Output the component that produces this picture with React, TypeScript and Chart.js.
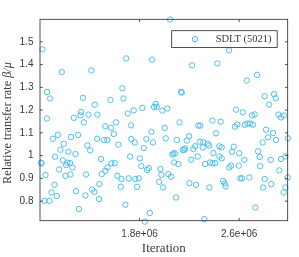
import React, { useEffect, useRef } from "react";
import { Chart, registerables } from "chart.js";
Chart.register(...registerables);

// Iteration (in millions) and relative transfer rate
const iterationM = [
  1.020, 1.175, 1.057, 1.081, 1.413, 1.346, 1.440, 1.055, 1.272, 1.330,
  1.325, 1.352, 1.389, 1.461, 1.525, 1.566, 1.571, 1.611, 1.662, 1.670,
  1.692, 1.705, 1.732, 1.753, 1.822, 1.900, 2.045, 2.519, 2.222, 2.425,
  2.661, 2.744, 2.133, 2.139, 2.805, 2.880, 2.894, 2.840, 1.930, 1.916,
  1.938, 2.023, 1.983, 2.575, 2.629, 2.703, 2.725, 2.915, 2.936, 2.958,
  2.120, 2.272, 2.288, 2.385, 2.452, 2.002, 2.567, 2.585, 2.645, 2.666,
  2.687, 2.711, 2.816, 1.103, 1.143, 1.250, 1.306, 1.191, 1.164, 1.381,
  1.403, 1.459, 1.228, 1.285, 1.121, 1.183, 1.220, 1.210, 1.242, 1.009,
  1.012, 1.491, 1.154, 1.260, 1.044, 1.204, 1.244, 1.370, 1.496, 1.116,
  1.092, 1.135, 1.290, 1.365, 1.419, 1.437, 1.477, 1.036, 1.076, 1.475,
  1.312, 1.593, 1.515, 1.541, 1.630, 1.734, 1.761, 1.855, 1.895, 1.908,
  1.834, 1.724, 1.802, 1.814, 1.874, 1.860, 1.967, 1.975, 1.574, 1.601,
  1.541, 1.525, 1.622, 1.654, 1.713, 1.766, 1.794, 1.649, 1.780, 1.957,
  1.989, 1.686, 1.882, 1.842, 2.414, 2.010, 2.099, 2.179, 2.197, 2.286,
  2.312, 2.348, 2.358, 2.246, 2.307, 2.460, 2.441, 2.165, 2.147, 2.160,
  2.232, 2.071, 2.085, 2.063, 2.267, 2.214, 2.393, 2.441, 2.460, 2.077,
  2.112, 2.326, 2.366, 2.385, 2.406, 2.031, 2.053, 2.200, 2.254, 2.360,
  2.471, 2.484, 2.491, 2.093, 2.320, 2.872, 2.832, 2.896, 2.789, 2.992,
  2.556, 2.543, 2.601, 2.752, 2.765, 2.642, 2.854, 2.936, 2.971, 2.521,
  2.535, 2.597, 2.770, 2.923, 2.990, 2.609, 2.623, 2.682, 2.805, 2.858,
  2.792, 2.971, 2.958, 2.730,
];
const transferRate = [
  1.467, 1.367, 1.280, 1.251, 1.374, 1.254, 1.224, 1.163, 1.166, 1.192,
  1.177, 1.146, 1.180, 1.180, 1.129, 1.245, 1.122, 1.146, 1.296, 1.251,
  1.427, 1.185, 1.133, 1.199, 1.210, 1.422, 1.598, 1.463, 1.397, 1.405,
  1.330, 1.355, 1.280, 1.277, 1.261, 1.270, 1.252, 1.224, 1.227, 1.214,
  1.214, 1.207, 1.198, 1.202, 1.190, 1.176, 1.181, 1.180, 1.168, 1.176,
  1.146, 1.132, 1.132, 1.154, 1.149, 1.122, 1.127, 1.137, 1.135, 1.141,
  1.141, 1.136, 1.114, 1.074, 1.091, 1.082, 1.091, 1.052, 1.026, 1.045,
  1.023, 1.074, 1.017, 1.007, 0.995, 0.979, 0.969, 0.958, 0.967, 0.969,
  0.966, 0.985, 0.939, 0.948, 0.915, 0.911, 0.917, 0.917, 0.919, 0.872,
  0.838, 0.822, 0.844, 0.825, 0.851, 0.841, 0.875, 0.801, 0.801, 0.809,
  0.765, 1.095, 1.069, 1.069, 1.048, 1.073, 1.058, 1.073, 1.105, 1.058,
  1.033, 0.996, 0.988, 0.954, 0.945, 0.937, 0.941, 0.915, 0.966, 0.967,
  0.948, 0.933, 0.911, 0.897, 0.900, 0.897, 0.900, 0.863, 0.863, 0.885,
  0.860, 0.784, 0.748, 0.710, 1.098, 1.076, 1.069, 1.066, 1.085, 1.061,
  1.058, 1.052, 1.044, 1.041, 1.036, 1.036, 1.041, 1.032, 1.025, 1.025,
  1.029, 1.010, 1.010, 1.004, 0.996, 0.982, 1.011, 0.996, 0.988, 0.970,
  0.963, 0.963, 0.970, 0.966, 0.967, 0.919, 0.907, 0.879, 0.872, 0.860,
  0.889, 0.878, 0.865, 0.816, 0.721, 1.100, 1.080, 1.069, 1.058, 1.076,
  1.039, 1.017, 1.010, 1.019, 0.994, 0.981, 0.981, 0.985, 0.996, 0.948,
  0.956, 0.956, 0.954, 0.935, 0.904, 0.900, 0.900, 0.904, 0.897, 0.875,
  0.860, 0.860, 0.838, 0.772,
];

const xTickValues = [1.8e6, 2.6e6];
const xTickLabels = ["1.8e+06", "2.6e+06"];
const yTickValues = [0.8, 0.9, 1.0, 1.1, 1.2, 1.3, 1.4, 1.5];
const yTickLabels = ["0.8", "0.9", "1", "1.1", "1.2", "1.3", "1.4", "1.5"];
const seriesLabel = "SDLT (5021)";
const xTitle = "Iteration";
const yTitleMain = "Relative transfer rate ";
const yTitleSym = "\u03B2/\u03BC";

const X_MIN = 1.0e6;
const X_MAX = 2.99e6;
const Y_MIN = 0.714;
const Y_MAX = 1.599;

const POINT = "#4DBEEE";
const AXIS = "#262626";
const TEXT = "#3a3a3a";
const SANS = "'Liberation Sans', Arial, sans-serif";
const SERIF = "'Liberation Serif', 'Times New Roman', serif";

const framePlugin = {
  id: "frame",
  afterDatasetsDraw(chart: any) {
    const { ctx, chartArea: a, scales } = chart;
    ctx.save();
    ctx.strokeStyle = AXIS;
    ctx.lineWidth = 0.8;
    ctx.strokeRect(a.left, a.top, a.right - a.left, a.bottom - a.top);
    const tl = 2.8;
    ctx.beginPath();
    for (const t of scales.x.ticks) {
      const px = scales.x.getPixelForValue(t.value);
      ctx.moveTo(px, a.bottom);
      ctx.lineTo(px, a.bottom - tl);
      ctx.moveTo(px, a.top);
      ctx.lineTo(px, a.top + tl);
    }
    for (const t of scales.y.ticks) {
      const py = scales.y.getPixelForValue(t.value);
      ctx.moveTo(a.left, py);
      ctx.lineTo(a.left + tl, py);
      ctx.moveTo(a.right, py);
      ctx.lineTo(a.right - tl, py);
    }
    ctx.stroke();

    // legend
    const lw = 105.5;
    const lh = 16.8;
    const lx = a.right - 10.5 - lw;
    const ly = a.top + 11.4;
    ctx.fillStyle = "#ffffff";
    ctx.fillRect(lx, ly, lw, lh);
    ctx.strokeStyle = AXIS;
    ctx.lineWidth = 0.8;
    ctx.strokeRect(lx, ly, lw, lh);
    ctx.beginPath();
    ctx.strokeStyle = POINT;
    ctx.lineWidth = 1;
    ctx.arc(lx + 23.3, ly + lh / 2, 2.7, 0, Math.PI * 2);
    ctx.stroke();
    ctx.fillStyle = TEXT;
    ctx.font = `10.5px ${SERIF}`;
    ctx.textAlign = "left";
    ctx.textBaseline = "alphabetic";
    ctx.fillText(seriesLabel, lx + 44, ly + 11.6);

    // x title
    ctx.font = `13px ${SERIF}`;
    ctx.textAlign = "center";
    ctx.fillText(xTitle, (a.left + a.right) / 2, a.bottom + 31);

    // y title
    ctx.save();
    const fs = 12.3;
    const cy = (a.top + a.bottom) / 2 + 3;
    ctx.translate(10.5, cy);
    ctx.rotate(-Math.PI / 2);
    ctx.textAlign = "left";
    ctx.font = `${fs}px ${SERIF}`;
    const w1 = ctx.measureText(yTitleMain).width;
    ctx.font = `italic ${fs}px ${SERIF}`;
    const w2 = ctx.measureText(yTitleSym).width;
    const start = -(w1 + w2) / 2;
    ctx.font = `${fs}px ${SERIF}`;
    ctx.fillText(yTitleMain, start, 0);
    ctx.font = `italic ${fs}px ${SERIF}`;
    ctx.fillText(yTitleSym, start + w1, 0);
    ctx.restore();

    ctx.restore();
  },
};

export default function App() {
  const ref = useRef<HTMLCanvasElement | null>(null);
  useEffect(() => {
    if (!ref.current) return;
    const points = iterationM.map((v, i) => ({ x: v * 1e6, y: transferRate[i] }));
    const chart = new Chart(ref.current, {
      type: "scatter",
      data: {
        datasets: [
          {
            label: seriesLabel,
            data: points,
            pointStyle: "circle",
            pointRadius: 2.7,
            pointBorderWidth: 1,
            pointBorderColor: POINT,
            pointBackgroundColor: "rgba(0,0,0,0)",
            clip: false as any,
          },
        ],
      },
      options: {
        animation: false,
        responsive: false,
        devicePixelRatio: 1,
        layout: { padding: { top: 19.3, right: 11.3, left: 0, bottom: 0 } },
        plugins: {
          legend: { display: false },
          tooltip: { enabled: false },
        },
        scales: {
          x: {
            type: "linear",
            min: X_MIN,
            max: X_MAX,
            grid: { display: false, drawTicks: false },
            border: { display: false },
            afterBuildTicks: (s: any) => {
              s.ticks = xTickValues.map((v) => ({ value: v }));
            },
            afterFit: (s: any) => {
              s.height = 36.3;
            },
            ticks: {
              autoSkip: false,
              maxRotation: 0,
              padding: 8,
              color: TEXT,
              font: { family: SANS, size: 10 },
              callback: (v: any) => {
                const i = xTickValues.indexOf(Number(v));
                return i >= 0 ? xTickLabels[i] : "";
              },
            },
          },
          y: {
            type: "linear",
            min: Y_MIN,
            max: Y_MAX,
            grid: { display: false, drawTicks: false },
            border: { display: false },
            afterBuildTicks: (s: any) => {
              s.ticks = yTickValues.map((v) => ({ value: v }));
            },
            afterFit: (s: any) => {
              s.width = 40;
            },
            ticks: {
              autoSkip: false,
              padding: 6.5,
              color: TEXT,
              font: { family: SANS, size: 10 },
              callback: (v: any) => {
                const i = yTickValues.findIndex((t) => Math.abs(t - Number(v)) < 1e-9);
                return i >= 0 ? yTickLabels[i] : "";
              },
            },
          },
        },
      },
      plugins: [framePlugin],
    });
    return () => chart.destroy();
  }, []);
  return (
    <div style={{ position: "fixed", left: 0, top: 0, width: 299, height: 257, background: "#fff" }}>
      <canvas ref={ref} width={299} height={257} style={{ display: "block" }} />
    </div>
  );
}
